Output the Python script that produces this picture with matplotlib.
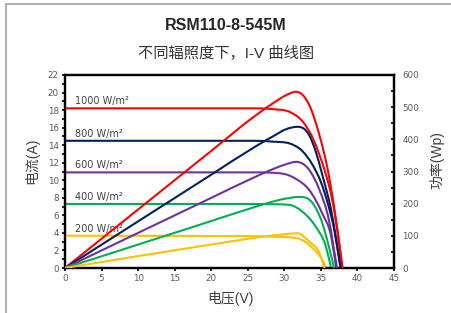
import numpy as np
import matplotlib
matplotlib.use("Agg")
import matplotlib.pyplot as plt
from matplotlib.path import Path
from matplotlib.patches import PathPatch
from matplotlib.lines import Line2D
from matplotlib.ticker import MultipleLocator

# ---------------- data ----------------
labels = ["1000 W/m²", "800 W/m²", "600 W/m²", "400 W/m²", "200 W/m²"]
colors = ["#FF0000", "#002060", "#7030A0", "#00B050", "#FFC000"]
isc = [18.2, 14.5, 10.9, 7.3, 3.68]

iv_v_1000 = [0, 20, 26, 28.5, 30.7, 32.5, 33.9, 34.8, 35.7, 36.5, 37.2, 37.95]
iv_i_1000 = [18.2, 18.2, 18.2, 18.1, 17.8, 16.7, 14.8, 12.9, 10.6, 8.0, 4.6, 0]
pv_v_1000 = [0, 20, 26, 28.5, 30.3, 31.6, 33.4, 34.8, 35.9, 36.9, 37.95]
pv_p_1000 = [0, 364, 473, 513, 538, 548, 507, 413, 310, 175, 0]

iv_v_800 = [0, 20, 26, 28.5, 30.7, 32.5, 33.9, 35.0, 36.0, 36.8, 37.7]
iv_i_800 = [14.5, 14.5, 14.5, 14.4, 14.2, 13.3, 11.7, 9.8, 7.2, 4.5, 0]
pv_v_800 = [0, 20, 26, 28.5, 30.3, 31.8, 33.4, 34.3, 35.2, 36.4, 37.7]
pv_p_800 = [0, 290, 377, 410, 432, 439, 413, 362, 289, 180, 0]

iv_v_600 = [0, 20, 26, 28.5, 30.5, 31.6, 33.4, 35.2, 36.4, 37.1]
iv_i_600 = [10.9, 10.9, 10.9, 10.85, 10.6, 10.15, 8.9, 6.2, 3.6, 0]
pv_v_600 = [0, 20, 26, 28.5, 30.3, 31.6, 33.4, 34.8, 36.1, 37.2]
pv_p_600 = [0, 218, 283, 308, 323, 330, 305, 243, 149, 0]

iv_v_400 = [0, 20, 26, 28.5, 30.7, 32.5, 34.3, 35.7, 36.4]
iv_i_400 = [7.3, 7.3, 7.3, 7.27, 7.2, 6.4, 4.7, 2.4, 0]
pv_v_400 = [0, 20, 26, 28.5, 30.5, 32.0, 33.9, 35.2, 36.1, 36.8]
pv_p_400 = [0, 146, 190, 207, 217, 221, 201, 139, 66, 0]

iv_v_200 = [0, 20, 28, 31.8, 33.9, 35.2, 35.7]
iv_i_200 = [3.68, 3.65, 3.58, 3.38, 2.24, 0.9, 0]
pv_v_200 = [0, 20, 28, 30.5, 31.8, 33.4, 34.8, 35.5]
pv_p_200 = [0, 73, 100, 106, 108, 82, 46, 0]

iv_sets = [(iv_v_1000, iv_i_1000), (iv_v_800, iv_i_800), (iv_v_600, iv_i_600),
           (iv_v_400, iv_i_400), (iv_v_200, iv_i_200)]
pv_sets = [(pv_v_1000, pv_p_1000), (pv_v_800, pv_p_800), (pv_v_600, pv_p_600),
           (pv_v_400, pv_p_400), (pv_v_200, pv_p_200)]

x_ticks = list(range(0, 46, 5))
y1_ticks = list(range(0, 23, 2))
y2_ticks = list(range(0, 601, 100))


def smooth_path(xs, ys):
    """Cubic Hermite through the points (limited parabolic tangents), as Bezier segments."""
    x = np.asarray(xs, float)
    y = np.asarray(ys, float)
    h = np.diff(x)
    d = np.diff(y) / h
    n = len(x)
    m = np.zeros(n)
    for k in range(1, n - 1):
        if d[k - 1] * d[k] <= 0:
            m[k] = 0.0
        else:
            mk = (d[k - 1] * h[k] + d[k] * h[k - 1]) / (h[k - 1] + h[k])
            lim = 3 * min(abs(d[k - 1]), abs(d[k]))
            m[k] = np.sign(mk) * min(abs(mk), lim)
    m[0] = d[0]
    m[-1] = d[-1]
    verts = [(x[0], y[0])]
    codes = [Path.MOVETO]
    for k in range(n - 1):
        verts += [(x[k] + h[k] / 3, y[k] + m[k] * h[k] / 3),
                  (x[k + 1] - h[k] / 3, y[k + 1] - m[k + 1] * h[k] / 3),
                  (x[k + 1], y[k + 1])]
        codes += [Path.CURVE4] * 3
    return Path(verts, codes)


fig = plt.figure(figsize=(4.51, 3.13), dpi=100)
ax1 = fig.add_axes([65 / 451, 1 - 268 / 313, (394 - 65) / 451, (268 - 75) / 313])
ax2 = ax1.twinx()

lw = 1.5
for (v, i), c in zip(iv_sets, colors):
    ax1.add_patch(PathPatch(smooth_path(v, i), facecolor="none", edgecolor=c,
                            lw=lw, capstyle="round", joinstyle="round", zorder=3))
for (v, p), c in zip(pv_sets, colors):
    ax2.add_patch(PathPatch(smooth_path(v, p), facecolor="none", edgecolor=c,
                            lw=lw, capstyle="round", joinstyle="round", zorder=3))

for lab, s in zip(labels, isc):
    ax1.text(1.3, s + 0.8, lab, fontsize=7, color="#404040", va="center",
             ha="left", family="DejaVu Sans", zorder=1)

ax1.set_xlim(0, 45)
ax1.set_ylim(0, 22)
ax2.set_ylim(0, 600)
ax1.set_xticks(x_ticks)
ax1.set_yticks(y1_ticks)
ax2.set_yticks(y2_ticks)
ax1.yaxis.set_minor_locator(MultipleLocator(1))
ax2.yaxis.set_minor_locator(MultipleLocator(50))

tick_color = "#595959"
for ax in (ax1, ax2):
    for sp in ax.spines.values():
        sp.set_linewidth(1.6)
        sp.set_color("black")
    ax.tick_params(labelsize=6.3, labelcolor=tick_color, color="black",
                   width=1.2, length=2.5, pad=2)
    ax.tick_params(which="minor", width=1.2, length=2.5, color="black")
ax1.tick_params(axis="y", which="both", direction="out")
ax1.tick_params(axis="x", direction="out")
ax2.tick_params(axis="y", which="both", direction="in", pad=6)

cjk = ["Liberation Sans", "Noto Sans CJK SC"]
fig.text(0.501, 1 - 25 / 313, "RSM110-8-545M", ha="center", va="center",
         fontsize=11.5, fontweight="bold", color="#262626", family="Liberation Sans")
fig.text(0.501, 1 - 53 / 313, "不同辐照度下，I-V 曲线图", ha="center", va="center",
         fontsize=11, color="#333333", family=cjk)
fig.text(230 / 451, 1 - 299 / 313, "电压(V)", ha="center", va="center",
         fontsize=10, color="#404040", family=cjk)
fig.text(32 / 451, 1 - 161 / 313, "电流(A)", ha="center", va="center",
         fontsize=10, color="#404040", rotation=90, family=cjk)
fig.text(437 / 451, 1 - 160 / 313, "功率(Wp)", ha="center", va="center",
         fontsize=10, color="#404040", rotation=90, family=cjk)

# grey frame at left/top of the picture
fig.add_artist(Line2D([5.5 / 451, 5.5 / 451], [0, 1 - 3.5 / 313],
                      transform=fig.transFigure, color="#b4b4b4", lw=1.5))
fig.add_artist(Line2D([5.5 / 451, 1], [1 - 3.5 / 313, 1 - 3.5 / 313],
                      transform=fig.transFigure, color="#b4b4b4", lw=1.5))

fig.savefig("out.png", dpi=100)
